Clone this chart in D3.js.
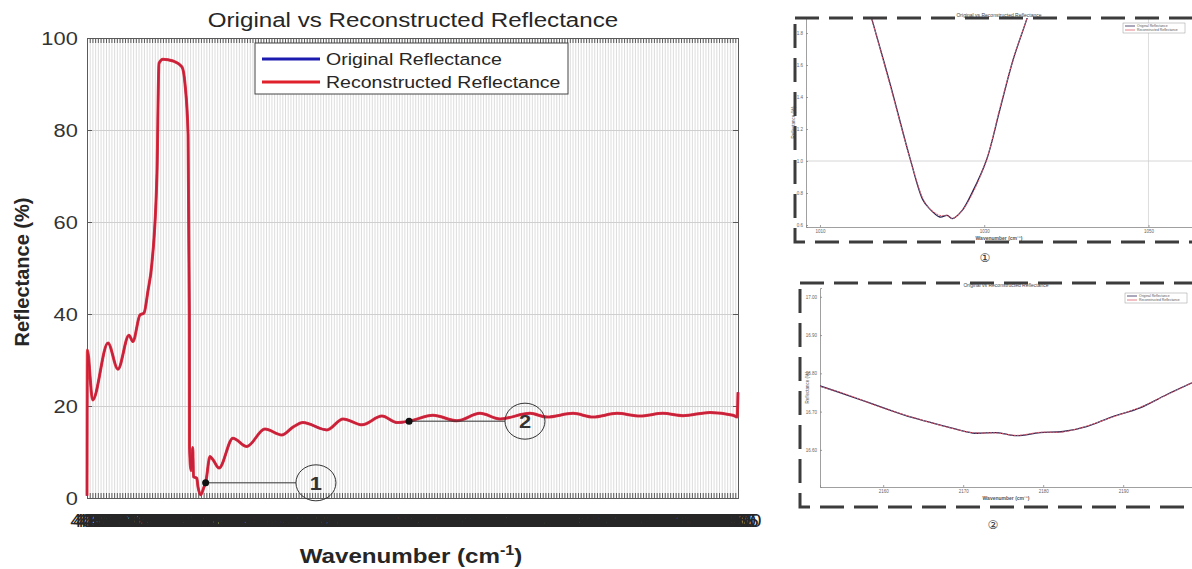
<!DOCTYPE html>
<html>
<head>
<meta charset="utf-8">
<script src="https://cdn.jsdelivr.net/npm/d3@7"></script>
<style>
  body { margin: 0; background: #fff; }
  svg { display: block; font-family: Arial, "Liberation Sans", sans-serif; }
</style>
</head>
<body>
<svg id="chart" width="1192" height="569"></svg>
<script>
// main spectrum (cm-1 / %)
const wavenumber = [400, 402, 431, 516, 571, 632, 654, 693, 715, 737, 759, 787, 798, 820, 876, 925, 942, 959, 966, 967,
  975, 985, 989, 1007, 1014, 1029, 1047, 1056, 1080, 1097, 1130, 1207, 1283, 1384, 1477, 1539, 1594, 1727, 1816, 1921,
  2031, 2114, 2181, 2313, 2446, 2573, 2684, 2850, 2944, 3088, 3198, 3331, 3458, 3585, 3696, 3845, 3972, 3995, 4000];
const originalReflectance = [0.5, 32.2, 21.3, 33.7, 28.0, 35.4, 34.0, 39.8, 40.2, 45.0, 51.0, 70.6, 94.5, 95.4, 95.0, 93.7, 90.0, 79.0, 40.0, 11.0,
  6.0, 11.0, 4.6, 4.3, 2.4, 0.7, 2.4, 3.3, 9.0, 8.3, 6.5, 13.0, 11.2, 15.0, 13.7, 15.4, 16.4, 14.8, 17.2, 15.9,
  17.8, 16.4, 16.7, 18.0, 16.8, 18.4, 17.2, 18.4, 17.6, 18.4, 17.6, 18.4, 17.8, 18.4, 17.9, 18.6, 18.0, 17.6, 23.0];
const reconstructedReflectance = [0.5, 32.2, 21.3, 33.7, 28.0, 35.4, 34.0, 39.8, 40.2, 45.0, 51.0, 70.6, 94.5, 95.4, 95.0, 93.7, 90.0, 79.0, 40.0, 11.0,
  6.0, 11.0, 4.6, 4.3, 2.4, 0.7, 2.4, 3.3, 9.0, 8.3, 6.5, 13.0, 11.2, 15.0, 13.7, 15.4, 16.4, 14.8, 17.2, 15.9,
  17.8, 16.4, 16.7, 18.0, 16.8, 18.4, 17.2, 18.4, 17.6, 18.4, 17.6, 18.4, 17.8, 18.4, 17.9, 18.6, 18.0, 17.6, 23.0];

const yTicks = [0, 20, 40, 60, 80, 100];
const xTicks = d3.range(400, 4001, 15);   // one label per sample column, they pile up like in the original

// zoomed details (the two framed panels on the right)
const inset1Wavenumber = [1015.6, 1016.3, 1018.5, 1021.0, 1022.5, 1023.2, 1024.6, 1025.5, 1026.1, 1027.3, 1028.6, 1030.3, 1031.9, 1033.5, 1035.2, 1035.9];
const inset1Original = [2.01, 1.89, 1.49, 1.01, 0.76, 0.71, 0.65, 0.66, 0.64, 0.69, 0.81, 1.01, 1.32, 1.63, 1.89, 2.01];
const inset1Reconstructed = [2.01, 1.89, 1.48, 1.01, 0.77, 0.71, 0.66, 0.66, 0.64, 0.69, 0.80, 1.01, 1.33, 1.63, 1.89, 2.01];
const inset1XTicks = [1010, 1030, 1050];
const inset1YTicks = [0.6, 0.8, 1.0, 1.2, 1.4, 1.6, 1.8];

const inset2Wavenumber = [2152.1, 2155.4, 2159.6, 2163.7, 2167.9, 2171.2, 2174.2, 2176.7, 2179.6, 2182.5, 2185.4, 2188.7, 2192.1, 2195.4, 2198.6];
const inset2Original = [16.767, 16.744, 16.713, 16.684, 16.661, 16.644, 16.645, 16.637, 16.645, 16.648, 16.661, 16.687, 16.710, 16.744, 16.775];
const inset2Reconstructed = [16.766, 16.745, 16.712, 16.685, 16.660, 16.645, 16.644, 16.638, 16.646, 16.647, 16.662, 16.686, 16.711, 16.743, 16.776];
const inset2XTicks = [2160, 2170, 2180, 2190];
const inset2YTicks = [16.6, 16.7, 16.8, 16.9, 17.0];

// callouts: point on curve -> numbered circle
const callouts = [
  { label: '1', at: 1056, circleAt: 1666 },
  { label: '2', at: 2181, circleAt: 2822 }
];

const svg = d3.select('#chart');
svg.append('rect').attr('width', 1192).attr('height', 569).attr('fill', '#fff');

// the source figure is a bit wider than tall, text looks stretched sideways
const STRETCH = 1.15;

const margin = { left: 87, right: 738, top: 38, bottom: 498 };
const x = d3.scaleLinear().domain([400, 4000]).range([margin.left, margin.right]);
const y = d3.scaleLinear().domain([0, 100]).range([margin.bottom, margin.top]);
const plotH = margin.bottom - margin.top;
const plotW = margin.right - margin.left;

const main = svg.append('g');

// grid
main.append('g')
  .attr('transform', `translate(0,${margin.bottom})`)
  .call(d3.axisBottom(x).tickValues(xTicks).tickSize(-plotH).tickFormat(''))
  .call(g => g.select('.domain').remove())
  .call(g => g.selectAll('line').attr('stroke', '#d4d4d4').attr('stroke-width', 0.8));
main.append('g')
  .attr('transform', `translate(${margin.left},0)`)
  .call(d3.axisLeft(y).tickValues(yTicks).tickSize(-plotW).tickFormat(''))
  .call(g => g.select('.domain').remove())
  .call(g => g.selectAll('line').attr('stroke', '#cfcfcf').attr('stroke-width', 1));

// axes, ticks inward like matlab
const axisColor = '#5a5a5a';
const axes = main.append('g');
const bottomAxis = axes.append('g')
  .attr('transform', `translate(0,${margin.bottom})`)
  .call(d3.axisBottom(x).tickValues(xTicks).tickSize(-5).tickPadding(16).tickFormat(d3.format('d')));
bottomAxis.selectAll('text').attr('font-size', 18).attr('fill', '#262626')
  .attr('font-family', 'Arial, Liberation Sans, sans-serif').attr('transform', `scale(${STRETCH},1)`);

axes.append('g')
  .attr('transform', `translate(0,${margin.top})`)
  .call(d3.axisTop(x).tickValues(xTicks).tickSize(-5).tickFormat(''));

const leftAxis = axes.append('g')
  .attr('transform', `translate(${margin.left},0)`)
  .call(d3.axisLeft(y).tickValues(yTicks).tickSize(-5).tickPadding(8));
leftAxis.selectAll('text').attr('font-size', 19).attr('fill', '#333')
  .attr('font-family', 'Arial, Liberation Sans, sans-serif').attr('transform', `scale(${STRETCH},1)`);

axes.append('g')
  .attr('transform', `translate(${margin.right},0)`)
  .call(d3.axisRight(y).tickValues(yTicks).tickSize(-5).tickFormat(''));

axes.selectAll('.domain').attr('stroke', axisColor);
axes.selectAll('.tick line').attr('stroke', axisColor);

// data lines
const origPts = wavenumber.map((w, i) => [w, originalReflectance[i]]);
const recPts = wavenumber.map((w, i) => [w, reconstructedReflectance[i]]);
const line = d3.line().x(d => x(d[0])).y(d => y(d[1])).curve(d3.curveMonotoneX);

main.append('path').datum(origPts).attr('d', line)
  .attr('fill', 'none').attr('stroke', '#1b1bb0').attr('stroke-width', 2);
main.append('path').datum(recPts).attr('d', line)
  .attr('fill', 'none').attr('stroke', '#e0202a').attr('stroke-width', 3).attr('stroke-opacity', 0.88);

// callouts
callouts.forEach(c => {
  const i = wavenumber.indexOf(c.at);
  const px = x(c.at), py = y(reconstructedReflectance[i]);
  const cx = x(c.circleAt), rx = 20, ry = 18;
  main.append('line').attr('x1', px).attr('y1', py).attr('x2', cx - rx).attr('y2', py)
    .attr('stroke', '#333').attr('stroke-width', 1);
  main.append('circle').attr('cx', px).attr('cy', py).attr('r', 3.5).attr('fill', '#111');
  main.append('ellipse').attr('cx', cx).attr('cy', py).attr('rx', rx).attr('ry', ry)
    .attr('fill', 'none').attr('stroke', '#333').attr('stroke-width', 1);
  main.append('text').attr('transform', `translate(${cx},${py + 7}) scale(${STRETCH},1)`).attr('text-anchor', 'middle')
    .attr('font-size', 19).attr('font-weight', 'bold').attr('fill', '#333').text(c.label);
});

// legend
const legend = main.append('g');
legend.append('rect').attr('x', 255).attr('y', 43).attr('width', 313).attr('height', 51)
  .attr('fill', '#fff').attr('stroke', '#444').attr('stroke-width', 1);
[['Original Reflectance', '#1b1bb0'], ['Reconstructed Reflectance', '#e0202a']].forEach((d, i) => {
  legend.append('line').attr('x1', 262).attr('x2', 320).attr('y1', 59 + i * 23).attr('y2', 59 + i * 23)
    .attr('stroke', d[1]).attr('stroke-width', 3);
  legend.append('text').attr('transform', `translate(326,${65 + i * 23}) scale(${STRETCH},1)`)
    .attr('font-size', 17).attr('fill', '#262626').text(d[0]);
});

// titles
main.append('text').attr('transform', `translate(413,27) scale(${STRETCH},1)`).attr('text-anchor', 'middle')
  .attr('font-size', 21).attr('fill', '#262626').text('Original vs Reconstructed Reflectance');
main.append('text').attr('transform', 'translate(29,272) rotate(-90)').attr('text-anchor', 'middle')
  .attr('font-size', 20).attr('font-weight', 'bold').attr('fill', '#262626').text('Reflectance (%)');
const xl = main.append('text').attr('transform', `translate(411,563) scale(${STRETCH},1)`).attr('text-anchor', 'middle')
  .attr('font-size', 21).attr('font-weight', 'bold').attr('fill', '#262626');
xl.append('tspan').text('Wavenumber (cm');
xl.append('tspan').attr('dy', -8).attr('font-size', 14).text('-1');
xl.append('tspan').attr('dy', 8).text(')');

// framed zoom panels
function drawInset(o) {
  const g = svg.append('g');
  const sx = d3.scaleLinear().domain(o.xDomain).range([o.left, o.right]);
  const sy = d3.scaleLinear().domain(o.yDomain).range([o.bottom, o.top]);
  const clipId = 'clip' + o.id;
  g.append('clipPath').attr('id', clipId).append('rect')
    .attr('x', o.left).attr('y', o.top).attr('width', o.right - o.left).attr('height', o.bottom - o.top);

  if (o.gridX) g.append('line').attr('x1', sx(o.gridX)).attr('x2', sx(o.gridX)).attr('y1', o.top).attr('y2', o.bottom)
    .attr('stroke', '#d4d4d4').attr('stroke-width', 0.8);
  if (o.gridY) g.append('line').attr('x1', o.left).attr('x2', o.right).attr('y1', sy(o.gridY)).attr('y2', sy(o.gridY))
    .attr('stroke', '#cccccc').attr('stroke-width', 0.8);

  const ax = g.append('g').attr('transform', `translate(0,${o.bottom})`)
    .call(d3.axisBottom(sx).tickValues(o.xTicks).tickSize(-2).tickPadding(3).tickFormat(d3.format('d')));
  const ay = g.append('g').attr('transform', `translate(${o.left},0)`)
    .call(d3.axisLeft(sy).tickValues(o.yTicks).tickSize(-2).tickPadding(3));
  [ax, ay].forEach(a => {
    a.selectAll('text').attr('font-size', 4.5).attr('fill', '#666');
    a.selectAll('line, .domain').attr('stroke', '#888').attr('stroke-width', 0.8);
  });

  const l = d3.line().x(d => sx(d[0])).y(d => sy(d[1])).curve(d3.curveCatmullRom.alpha(0.5));
  const pts1 = o.xs.map((v, i) => [v, o.orig[i]]);
  const pts2 = o.xs.map((v, i) => [v, o.rec[i]]);
  g.append('path').datum(pts1).attr('d', l).attr('clip-path', `url(#${clipId})`)
    .attr('fill', 'none').attr('stroke', '#2a2450').attr('stroke-width', 1.3);
  g.append('path').datum(pts2).attr('d', l).attr('clip-path', `url(#${clipId})`)
    .attr('fill', 'none').attr('stroke', '#e06070').attr('stroke-width', 1).attr('stroke-dasharray', '2,1');

  const mid = (o.left + Math.min(o.right, 1192)) / 2;
  g.append('text').attr('x', mid).attr('y', o.top - 1).attr('text-anchor', 'middle')
    .attr('font-size', 5).attr('fill', '#444').text('Original vs Reconstructed Reflectance');
  g.append('text').attr('x', mid).attr('y', o.bottom + 13).attr('text-anchor', 'middle')
    .attr('font-size', 5).attr('font-weight', 'bold').attr('fill', '#555').text('Wavenumber (cm\u207B\u00B9)');
  g.append('text').attr('transform', `translate(${o.left - 11},${(o.top + o.bottom) / 2}) rotate(-90)`)
    .attr('text-anchor', 'middle').attr('font-size', 4.5).attr('fill', '#555').text('Reflectance (%)');

  // tiny legend
  const lg = g.append('g');
  lg.append('rect').attr('x', o.legendX).attr('y', o.top + 5).attr('width', 62).attr('height', 10)
    .attr('fill', '#fff').attr('stroke', '#999').attr('stroke-width', 0.5);
  [['Original Reflectance', '#2a2450'], ['Reconstructed Reflectance', '#e06070']].forEach((d, i) => {
    lg.append('line').attr('x1', o.legendX + 2).attr('x2', o.legendX + 12)
      .attr('y1', o.top + 8 + i * 4).attr('y2', o.top + 8 + i * 4).attr('stroke', d[1]).attr('stroke-width', 0.8);
    lg.append('text').attr('x', o.legendX + 14).attr('y', o.top + 9.3 + i * 4)
      .attr('font-size', 3.4).attr('fill', '#555').text(d[0]);
  });

  // dashed frame
  g.append('rect').attr('x', o.frame[0]).attr('y', o.frame[1]).attr('width', o.frame[2]).attr('height', o.frame[3])
    .attr('fill', 'none').attr('stroke', '#3c3c3c').attr('stroke-width', 3).attr('stroke-dasharray', '24,10');

  g.append('text').attr('x', o.badge[0]).attr('y', o.badge[1]).attr('text-anchor', 'middle')
    .attr('font-size', 12).attr('fill', '#333')
    .attr('font-family', 'DejaVu Sans, Noto Sans CJK SC, sans-serif').text(o.badgeText);
}

drawInset({
  id: 1, left: 806, right: 1192, top: 18, bottom: 227,
  xDomain: [1008.3, 1055.3], yDomain: [0.5875, 1.894],
  xTicks: inset1XTicks, yTicks: inset1YTicks, gridX: 1050, gridY: 1.0,
  xs: inset1Wavenumber, orig: inset1Original, rec: inset1Reconstructed,
  legendX: 1123, frame: [795, 18, 420, 224], badge: [985, 262], badgeText: '\u2460'
});
drawInset({
  id: 2, left: 820, right: 1200, top: 288, bottom: 487,
  xDomain: [2152.1, 2199.6], yDomain: [16.503, 17.023],
  xTicks: inset2XTicks, yTicks: inset2YTicks, gridX: null, gridY: null,
  xs: inset2Wavenumber, orig: inset2Original, rec: inset2Reconstructed,
  legendX: 1125, frame: [800, 283, 420, 224], badge: [993, 529], badgeText: '\u2461'
});
</script>
</body>
</html>
